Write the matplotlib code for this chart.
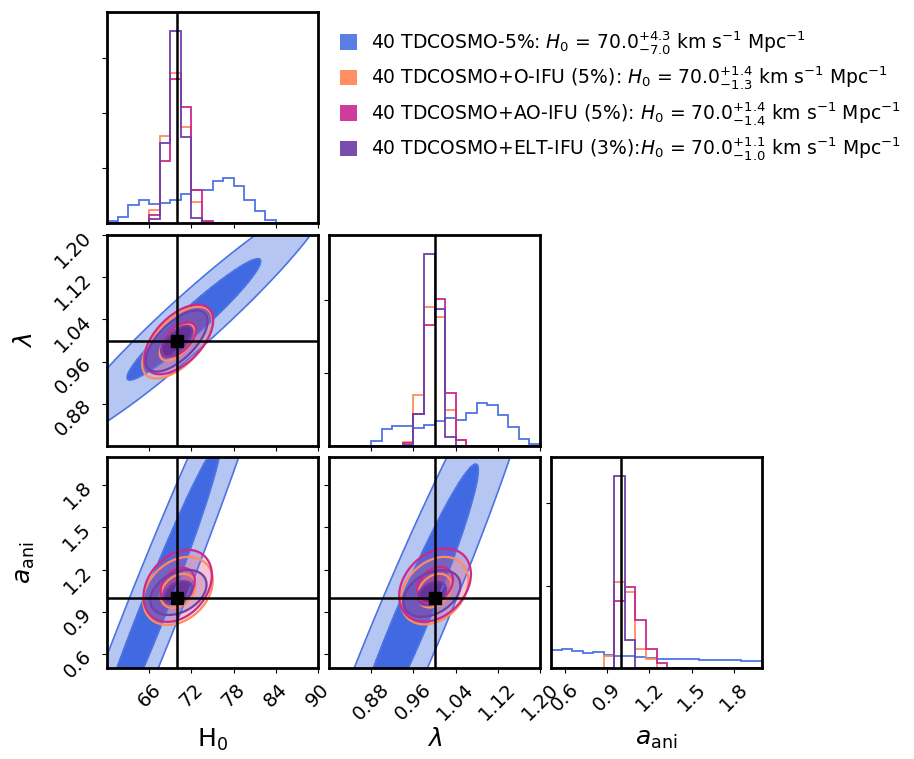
import matplotlib
matplotlib.use("Agg")
import matplotlib.pyplot as plt
import numpy as np
from matplotlib.colors import to_rgba
from matplotlib.patches import Patch

series_labels = [
    r"40 TDCOSMO-5%: $H_0$ = $70.0^{+4.3}_{-7.0}$ km s$^{-1}$ Mpc$^{-1}$",
    r"40 TDCOSMO+O-IFU (5%): $H_0$ = $70.0^{+1.4}_{-1.3}$ km s$^{-1}$ Mpc$^{-1}$",
    r"40 TDCOSMO+AO-IFU (5%): $H_0$ = $70.0^{+1.4}_{-1.4}$ km s$^{-1}$ Mpc$^{-1}$",
    r"40 TDCOSMO+ELT-IFU (3%):$H_0$ = $70.0^{+1.1}_{-1.0}$ km s$^{-1}$ Mpc$^{-1}$",
]
legend_colors = ["#5a7ee6", "#ff8f62", "#d03c9e", "#7a4cad"]
line_colors = ["#4f74e3", "#ff8c5c", "#cc2a8a", "#7040a8"]
fill_colors = ["#4169e1", "#ff8c5c", "#d6399a", "#5e2a96"]
inner_alpha = [1.0, 0.35, 0.5, 0.85]
outer_alpha = [0.38, 0.15, 0.22, 0.18]

param_labels = ["H$_0$", r"$\lambda$", r"$a_\mathrm{ani}$"]
param_ranges = [(60, 90), (0.8, 1.2), (0.5, 2.0)]
truths = [70.0, 1.0, 1.0]
param_ticks = [[66, 72, 78, 84, 90], [0.88, 0.96, 1.04, 1.12, 1.20], [0.6, 0.9, 1.2, 1.5, 1.8]]
param_ticklabels = [["66", "72", "78", "84", "90"],
                    ["0.88", "0.96", "1.04", "1.12", "1.20"],
                    ["0.6", "0.9", "1.2", "1.5", "1.8"]]
hist_yticks = [[0.1, 0.2, 0.3], [10, 20], [5, 10]]
n_bins = 20

# 1D marginal densities (20 bins over each param range), order: blue, orange, magenta, purple
h0_hist = [
    [0.003, 0.011, 0.033, 0.041, 0.035, 0.036, 0.042, 0.053, 0.059, 0.059,
     0.077, 0.081, 0.067, 0.042, 0.021, 0.005, 0, 0, 0, 0],
    [0, 0, 0, 0, 0.024, 0.158, 0.272, 0.174, 0.038, 0.001, 0, 0, 0, 0, 0, 0, 0, 0, 0, 0],
    [0, 0, 0, 0, 0.015, 0.113, 0.261, 0.211, 0.059, 0.004, 0, 0, 0, 0, 0, 0, 0, 0, 0, 0],
    [0, 0, 0, 0, 0.007, 0.145, 0.348, 0.156, 0.009, 0, 0, 0, 0, 0, 0, 0, 0, 0, 0, 0],
]
lam_hist = [
    [0, 0, 0, 0, 0.73, 2.27, 2.77, 2.77, 2.41, 2.86,
     3.45, 3.86, 3.55, 4.55, 5.9, 5.68, 4.23, 2.64, 0.95, 0.23],
    [0, 0, 0, 0, 0, 0, 0, 0.59, 7.05, 19.1, 17.7, 4.9, 0.82, 0, 0, 0, 0, 0, 0, 0],
    [0, 0, 0, 0, 0, 0, 0, 0.45, 4.45, 16.6, 20.2, 7.3, 0.82, 0, 0, 0, 0, 0, 0, 0],
    [0, 0, 0, 0, 0, 0, 0, 0.2, 4.45, 26.3, 18.8, 1.27, 0, 0, 0, 0, 0, 0, 0, 0],
]
aani_hist = [
    [1.07, 1.15, 1.05, 0.91, 0.97, 0.77, 0.73, 0.71, 0.67, 0.61,
     0.57, 0.57, 0.55, 0.55, 0.51, 0.51, 0.51, 0.46, 0.44, 0.44],
    [0, 0, 0, 0, 0, 0.71, 5.25, 4.65, 1.15, 0.55, 0, 0, 0, 0, 0, 0, 0, 0, 0, 0],
    [0, 0, 0, 0, 0, 0, 4.08, 4.91, 2.93, 1.15, 0.3, 0, 0, 0, 0, 0, 0, 0, 0, 0],
    [0, 0, 0, 0, 0, 0, 11.66, 1.72, 0, 0, 0, 0, 0, 0, 0, 0, 0, 0, 0, 0],
]
hists = [h0_hist, lam_hist, aani_hist]

# 2D posteriors summarised as gaussians: means (x, y), sds (x, y), correlation
h0_lam_mean = [[72.35, 1.04], [70.0, 0.996], [70.2, 1.002], [69.9, 0.999]]
h0_lam_sd = [[9.5, 0.115], [2.5, 0.034], [2.45, 0.033], [2.2, 0.029]]
h0_lam_rho = [0.958, 0.6, 0.55, 0.65]

h0_aani_mean = [[66.46, 0.9], [70.1, 1.048], [70.05, 1.084], [70.15, 1.037]]
h0_aani_sd = [[9.69, 1.2], [2.47, 0.121], [2.43, 0.128], [2.0, 0.08]]
h0_aani_rho = [0.978, 0.3, 0.3, 0.35]

lam_aani_mean = [[0.956, 0.85], [1.0, 1.05], [1.001, 1.09], [0.995, 1.03]]
lam_aani_sd = [[0.127, 1.1], [0.032, 0.12], [0.034, 0.13], [0.027, 0.083]]
lam_aani_rho = [0.961, 0.3, 0.3, 0.35]

panels_2d = {
    (1, 0): (h0_lam_mean, h0_lam_sd, h0_lam_rho),
    (2, 0): (h0_aani_mean, h0_aani_sd, h0_aani_rho),
    (2, 1): (lam_aani_mean, lam_aani_sd, lam_aani_rho),
}

W, H = 914, 759
size = 211
col_left = [107, 329, 551]
row_top = [12, 235, 457]
tick_fs = 14
label_fs = 18

fig = plt.figure(figsize=(W / 100, H / 100), dpi=100)


def style_axes(ax, i, j):
    for sp in ax.spines.values():
        sp.set_linewidth(2.0)
    ax.set_xlim(param_ranges[j])
    ax.set_xticks(param_ticks[j])
    ax.tick_params(labelsize=tick_fs, pad=5)
    if i == 2:
        ax.set_xticklabels(param_ticklabels[j], rotation=45)
        ax.set_xlabel(param_labels[j], fontsize=label_fs)
        ax.xaxis.set_label_coords(0.5, -0.28)
    else:
        ax.set_xticklabels([])


for i in range(3):
    for j in range(i + 1):
        ax = fig.add_axes([col_left[j] / W, 1 - (row_top[i] + size) / H, size / W, size / H])
        style_axes(ax, i, j)
        if i == j:
            edges = np.linspace(param_ranges[i][0], param_ranges[i][1], n_bins + 1)
            for k in range(4):
                ax.stairs(hists[i][k], edges, color=line_colors[k], lw=1.3)
            ax.set_ylim(0, 1.1 * max(max(h) for h in hists[i]))
            ax.set_yticks(hist_yticks[i])
            ax.set_yticklabels([])
            ax.axvline(truths[i], color="k", lw=1.8)
            continue

        means, sds, rhos = panels_2d[(i, j)]
        x0, x1 = param_ranges[j]
        y0, y1 = param_ranges[i]
        xg, yg = np.meshgrid(np.linspace(x0 - 0.05 * (x1 - x0), x1 + 0.05 * (x1 - x0), 400),
                             np.linspace(y0 - 0.05 * (y1 - y0), y1 + 0.05 * (y1 - y0), 400))
        for k in range(4):
            dx = (xg - means[k][0]) / sds[k][0]
            dy = (yg - means[k][1]) / sds[k][1]
            r2 = (dx ** 2 - 2 * rhos[k] * dx * dy + dy ** 2) / (1 - rhos[k] ** 2)
            ax.contourf(xg, yg, r2, levels=[0, 1, 4],
                        colors=[to_rgba(fill_colors[k], inner_alpha[k]),
                                to_rgba(fill_colors[k], outer_alpha[k])])
            ax.contour(xg, yg, r2, levels=[1, 4], colors=[line_colors[k]],
                       linewidths=1.2 if k == 0 else 1.6)
        ax.set_ylim(param_ranges[i])
        ax.set_yticks(param_ticks[i])
        if j == 0:
            ax.set_yticklabels(param_ticklabels[i], rotation=45)
            ax.set_ylabel(param_labels[i], fontsize=label_fs)
            ax.yaxis.set_label_coords(-0.33, 0.5)
        else:
            ax.set_yticklabels([])
        ax.axvline(truths[j], color="k", lw=1.8)
        ax.axhline(truths[i], color="k", lw=1.8)
        ax.plot(truths[j], truths[i], "s", color="k", ms=8)

handles = [Patch(facecolor=c, edgecolor="none") for c in legend_colors]
fig.legend(handles, series_labels, loc="upper left", bbox_to_anchor=(340 / W, 1 - 29 / H),
           frameon=False, fontsize=13.5, handlelength=0.9, handleheight=0.9,
           handletextpad=0.75, labelspacing=0.45, borderpad=0, borderaxespad=0)

plt.savefig("out.png", dpi=100)
plt.close()
